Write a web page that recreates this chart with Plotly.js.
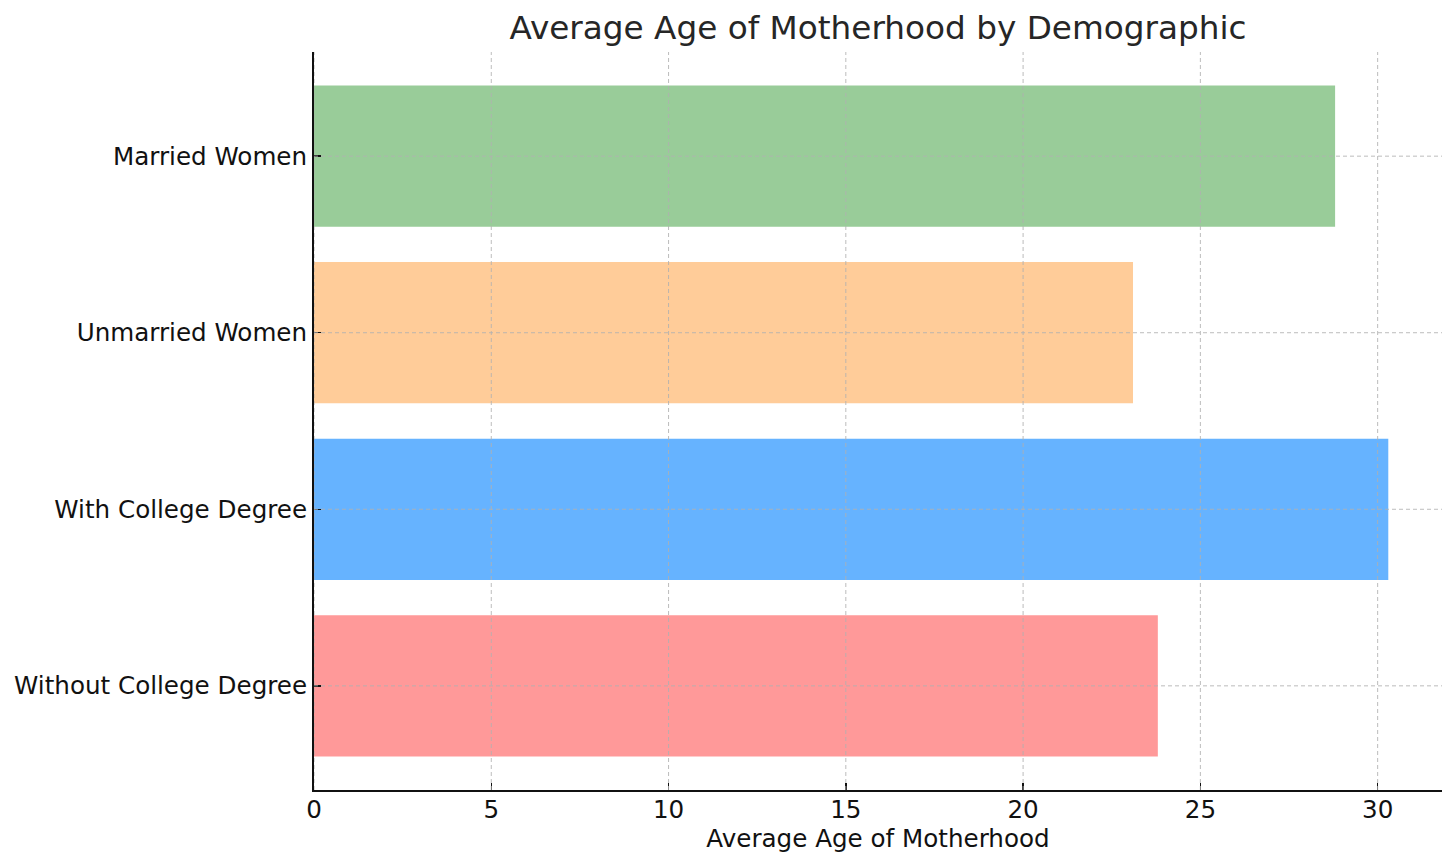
<!DOCTYPE html>
<html>
<head>
<meta charset="utf-8">
<script src="https://cdn.plot.ly/plotly-3.0.1.min.js"></script>
<style>html,body{margin:0;padding:0;background:#fff;}#chart{width:1456px;height:868px;}</style>
</head>
<body>
<div id="chart"></div>
<script>
const categories = ["Without College Degree", "With College Degree", "Unmarried Women", "Married Women"];
const values = [23.8, 30.3, 23.1, 28.8];
const barColors = ["#ff9999", "#66b3ff", "#ffcc99", "#99cc99"];
const xTicks = [0, 5, 10, 15, 20, 25, 30];

const gridStyle = {color: "rgba(176,176,176,0.85)", width: 1, dash: "4px,3px"};
const shapes = [];
xTicks.forEach(v => shapes.push({type: "line", layer: "above", xref: "x", yref: "paper", x0: v, x1: v, y0: 0, y1: 1, line: gridStyle}));
categories.forEach(c => shapes.push({type: "line", layer: "above", xref: "paper", yref: "y", x0: 0, x1: 1, y0: c, y1: c, line: gridStyle}));

const trace = {
  type: "bar",
  orientation: "h",
  x: values,
  y: categories,
  width: 0.8,
  marker: {color: barColors, line: {width: 0}},
  hoverinfo: "x+y"
};

const font = {family: "DejaVu Sans, sans-serif", size: 24.6, color: "#111"};

const layout = {
  width: 1456,
  height: 868,
  margin: {l: 314, r: 14, t: 52, b: 78},
  paper_bgcolor: "#fff",
  plot_bgcolor: "#fff",
  font: font,
  showlegend: false,
  title: {
    text: "Average Age of Motherhood by Demographic",
    font: {family: "DejaVu Sans, sans-serif", size: 32.7, color: "#262626"},
    x: 0.5, xref: "paper", xanchor: "center",
    y: 1 - 28 / 868, yref: "container", yanchor: "middle"
  },
  xaxis: {
    range: [0, 31.815],
    tickvals: xTicks,
    ticktext: xTicks.map(String),
    showgrid: false,
    zeroline: false,
    showline: true,
    linecolor: "#111",
    linewidth: 2,
    ticks: "inside",
    ticklen: 7,
    tickwidth: 1.5,
    tickcolor: "#111",
    tickfont: font,
    ticklabelstandoff: -4,
    title: {text: "Average Age of Motherhood", font: font, standoff: 6},
    fixedrange: true
  },
  yaxis: {
    type: "category",
    categoryorder: "array",
    categoryarray: categories,
    range: [-0.59, 3.59],
    showgrid: false,
    zeroline: false,
    showline: true,
    linecolor: "#111",
    linewidth: 2,
    ticks: "inside",
    ticklen: 7,
    tickwidth: 1.5,
    tickcolor: "#111",
    tickfont: font,
    ticklabelstandoff: 0,
    fixedrange: true
  },
  shapes: shapes
};

Plotly.newPlot("chart", [trace], layout, {displayModeBar: false, staticPlot: true});
</script>
</body>
</html>
